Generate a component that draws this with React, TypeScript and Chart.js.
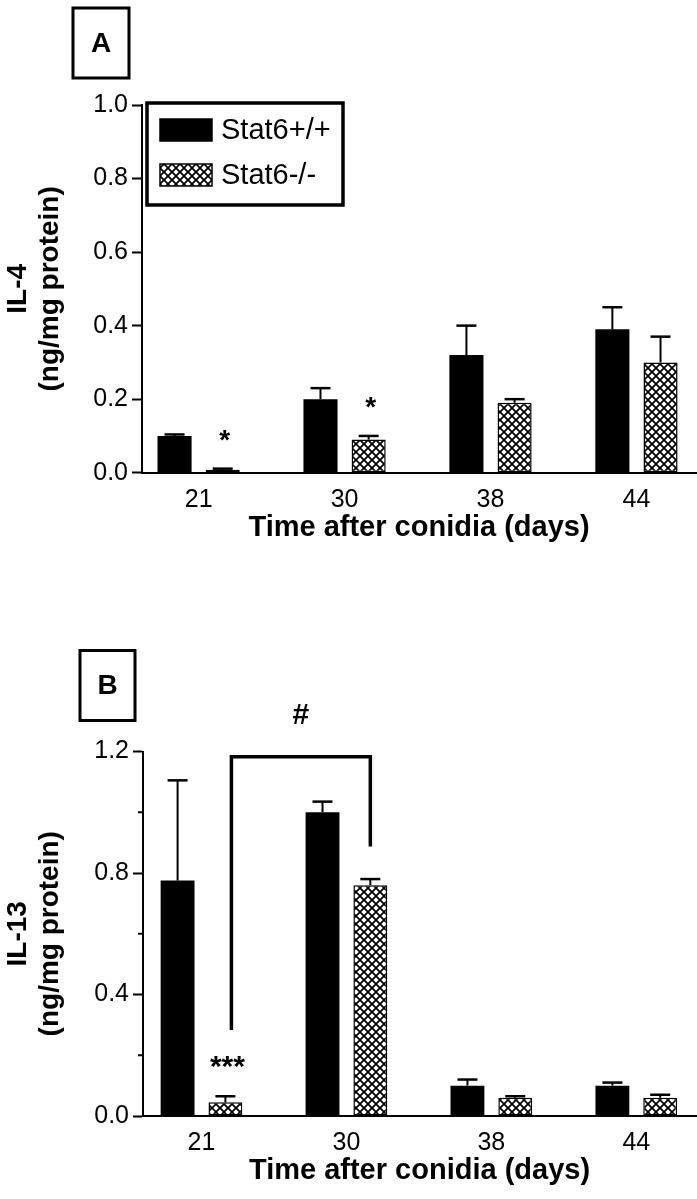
import React, { useEffect, useRef } from 'react';
import { Chart, registerables } from 'chart.js';

Chart.register(...registerables);

const FONT = "'Liberation Sans', Arial, Helvetica, sans-serif";

// ---- data ----
const categories = ['21', '30', '38', '44'];
const seriesNames = ['Stat6+/+', 'Stat6-/-'];

const il4Wt = [0.10, 0.20, 0.32, 0.39];
const il4WtErr = [0.004, 0.03, 0.08, 0.06];
const il4Ko = [0.008, 0.09, 0.19, 0.30];
const il4KoErr = [0.003, 0.01, 0.01, 0.07];
const il4KoSig = ['*', '*', '', ''];
const il4Ticks = [0, 0.2, 0.4, 0.6, 0.8, 1.0];

const il13Wt = [0.775, 1.0, 0.10, 0.10];
const il13WtErr = [0.33, 0.035, 0.02, 0.01];
const il13Ko = [0.045, 0.76, 0.06, 0.06];
const il13KoErr = [0.02, 0.02, 0.005, 0.01];
const il13KoSig = ['***', '', '', ''];
const il13Ticks = [0, 0.4, 0.8, 1.2];
const il13MinorTicks = [0.2, 0.6, 1.0];
// bracket between Stat6-/- day 21 and Stat6-/- day 30 (y values in ng/mg)
const il13BracketFrom = 0;
const il13BracketTo = 1;
const il13BracketTop = 1.183;
const il13BracketLeftEnd = 0.283;
const il13BracketRightEnd = 0.887;
const il13BracketLabel = '#';

function makeHatch(): CanvasPattern {
  const c = document.createElement('canvas');
  c.width = 8;
  c.height = 8;
  const g = c.getContext('2d')!;
  g.fillStyle = '#fff';
  g.fillRect(0, 0, 8, 8);
  g.strokeStyle = '#000';
  g.lineWidth = 1.7;
  for (const o of [-8, 0, 8]) {
    g.beginPath();
    g.moveTo(o, 0);
    g.lineTo(o + 8, 8);
    g.stroke();
    g.beginPath();
    g.moveTo(o + 8, 0);
    g.lineTo(o, 8);
    g.stroke();
  }
  return g.createPattern(c, 'repeat')!;
}

type PanelCfg = {
  letter: string;
  letterBox: { dx: number; dy: number; w: number; h: number };
  wt: number[];
  wtErr: number[];
  ko: number[];
  koErr: number[];
  sig: string[];
  sigSize: number;
  ticks: number[];
  minorTicks: number[];
  yMax: number;
  yTitle: string[];
  xMin: number;
  xMax: number;
  padTop: number;
  yAxisWidth: number;
  xAxisHeight: number;
  xTitlePadBottom: number;
  legend: boolean;
  bracket: boolean;
};

function buildChart(canvas: HTMLCanvasElement, cfg: PanelCfg) {
  const hatch = makeHatch();
  const annot = {
    id: 'annot',
    afterDatasetsDraw(chart: any) {
      const ctx: CanvasRenderingContext2D = chart.ctx;
      const y = chart.scales.y;
      const area = chart.chartArea;
      const vals = [cfg.wt, cfg.ko];
      const errs = [cfg.wtErr, cfg.koErr];
      ctx.save();
      ctx.strokeStyle = '#000';
      ctx.fillStyle = '#000';
      // error bars (upper only)
      for (let d = 0; d < 2; d++) {
        const meta = chart.getDatasetMeta(d);
        meta.data.forEach((bar: any, i: number) => {
          const top = y.getPixelForValue(vals[d][i]);
          const et = y.getPixelForValue(vals[d][i] + errs[d][i]);
          ctx.lineWidth = 2;
          ctx.beginPath();
          ctx.moveTo(bar.x, top);
          ctx.lineTo(bar.x, et);
          ctx.stroke();
          ctx.lineWidth = 2.5;
          ctx.beginPath();
          ctx.moveTo(bar.x - 10, et);
          ctx.lineTo(bar.x + 10, et);
          ctx.stroke();
        });
      }
      // significance marks
      const koMeta = chart.getDatasetMeta(1);
      ctx.textAlign = 'center';
      ctx.textBaseline = 'alphabetic';
      ctx.font = `bold ${cfg.sigSize}px ${FONT}`;
      cfg.sig.forEach((s, i) => {
        if (!s) return;
        const bar: any = koMeta.data[i];
        const et = y.getPixelForValue(cfg.ko[i] + cfg.koErr[i]);
        ctx.fillText(s, bar.x + 2, et - 20);
      });
      // minor ticks
      ctx.lineWidth = 2;
      cfg.minorTicks.forEach((v) => {
        const p = y.getPixelForValue(v);
        ctx.beginPath();
        ctx.moveTo(area.left - 5, p);
        ctx.lineTo(area.left, p);
        ctx.stroke();
      });
      // bracket
      if (cfg.bracket) {
        const b0: any = koMeta.data[il13BracketFrom];
        const b1: any = koMeta.data[il13BracketTo];
        const xl = b0.x + 6;
        const xr = b1.x;
        const yt = y.getPixelForValue(il13BracketTop);
        ctx.lineWidth = 3.5;
        ctx.lineJoin = 'miter';
        ctx.beginPath();
        ctx.moveTo(xl, y.getPixelForValue(il13BracketLeftEnd));
        ctx.lineTo(xl, yt);
        ctx.lineTo(xr, yt);
        ctx.lineTo(xr, y.getPixelForValue(il13BracketRightEnd));
        ctx.stroke();
        ctx.font = `bold 30px ${FONT}`;
        ctx.fillText(il13BracketLabel, (xl + xr) / 2, yt - 33);
      }
      ctx.restore();
    },
    afterDraw(chart: any) {
      const ctx: CanvasRenderingContext2D = chart.ctx;
      const area = chart.chartArea;
      ctx.save();
      ctx.strokeStyle = '#000';
      ctx.fillStyle = '#000';
      // panel letter box
      const lb = cfg.letterBox;
      const bx = area.left + lb.dx;
      const by = area.top + lb.dy;
      ctx.lineWidth = 3;
      ctx.strokeRect(bx, by, lb.w, lb.h);
      ctx.font = `bold 28px ${FONT}`;
      ctx.textAlign = 'center';
      ctx.textBaseline = 'middle';
      ctx.fillText(cfg.letter, bx + lb.w / 2, by + lb.h / 2 + 1);
      // legend
      if (cfg.legend) {
        const lx = area.left + 5;
        const ly = area.top - 2;
        ctx.lineWidth = 3.5;
        ctx.strokeRect(lx, ly, 196, 102);
        const sw = 52;
        const sh = 22;
        const rows = [ly + 16, ly + 61];
        const fills: (string | CanvasPattern)[] = ['#000', hatch];
        ctx.font = `29px ${FONT}`;
        ctx.textAlign = 'left';
        ctx.textBaseline = 'middle';
        rows.forEach((ry, k) => {
          ctx.fillStyle = fills[k];
          ctx.fillRect(lx + 13, ry, sw, sh);
          ctx.lineWidth = 1.5;
          ctx.strokeRect(lx + 13, ry, sw, sh);
          ctx.fillStyle = '#000';
          ctx.fillText(seriesNames[k], lx + 74, ry + sh / 2 + 1);
        });
      }
      ctx.restore();
    },
  };

  return new Chart(canvas, {
    type: 'bar',
    data: {
      datasets: [
        {
          label: seriesNames[0],
          data: cfg.wt.map((v, i) => ({ x: i, y: v })),
          backgroundColor: '#000',
          borderColor: '#000',
          borderWidth: 0,
          categoryPercentage: 0.66,
          barPercentage: 0.708,
        },
        {
          label: seriesNames[1],
          data: cfg.ko.map((v, i) => ({ x: i, y: v })),
          backgroundColor: hatch,
          borderColor: '#000',
          borderWidth: 1.5,
          borderSkipped: false,
          categoryPercentage: 0.66,
          barPercentage: 0.708,
        },
      ],
    } as any,
    options: {
      responsive: false,
      animation: false,
      devicePixelRatio: 1,
      layout: { padding: { top: cfg.padTop, right: 1, bottom: 0, left: 0 } },
      plugins: {
        legend: { display: false },
        tooltip: { enabled: false },
      },
      scales: {
        x: {
          type: 'linear',
          min: cfg.xMin,
          max: cfg.xMax,
          offset: false,
          afterBuildTicks: (s: any) => {
            s.ticks = categories.map((_, i) => ({ value: i }));
          },
          afterFit: (s: any) => {
            s.height = cfg.xAxisHeight;
          },
          grid: { display: false, drawTicks: false, offset: false },
          border: { display: true, color: '#000', width: 2 },
          ticks: {
            color: '#000',
            font: { family: FONT, size: 25 },
            padding: 12,
            autoSkip: false,
            maxRotation: 0,
            callback: (v: any) => categories[Math.round(Number(v))] ?? '',
          },
          title: {
            display: true,
            text: 'Time after conidia (days)',
            color: '#000',
            font: { family: FONT, size: 29, weight: 'bold', lineHeight: 1.2 },
            padding: { top: 0, bottom: cfg.xTitlePadBottom },
          },
        },
        y: {
          type: 'linear',
          min: 0,
          max: cfg.yMax,
          afterBuildTicks: (s: any) => {
            s.ticks = cfg.ticks.map((v) => ({ value: v }));
          },
          afterFit: (s: any) => {
            s.width = cfg.yAxisWidth;
          },
          grid: {
            drawOnChartArea: false,
            drawTicks: true,
            tickLength: 10,
            tickWidth: 2,
            tickColor: '#000',
          },
          border: { display: true, color: '#000', width: 2 },
          ticks: {
            color: '#000',
            font: { family: FONT, size: 25 },
            padding: 4,
            callback: (v: any) => Number(v).toFixed(1),
          },
          title: {
            display: true,
            text: cfg.yTitle,
            color: '#000',
            font: { family: FONT, size: 28, weight: 'bold', lineHeight: '32px' },
            padding: { top: 2, bottom: 0 },
          },
        },
      },
    } as any,
    plugins: [annot],
  });
}

export default function App() {
  const refA = useRef<HTMLCanvasElement>(null);
  const refB = useRef<HTMLCanvasElement>(null);

  useEffect(() => {
    const a = buildChart(refA.current!, {
      letter: 'A',
      letterBox: { dx: -69, dy: -97, w: 56, h: 70 },
      wt: il4Wt,
      wtErr: il4WtErr,
      ko: il4Ko,
      koErr: il4KoErr,
      sig: il4KoSig,
      sigSize: 28,
      ticks: il4Ticks,
      minorTicks: [],
      yMax: 1.0,
      yTitle: ['IL-4', '(ng/mg protein)'],
      xMin: -0.388,
      xMax: 3.408,
      padTop: 105,
      yAxisWidth: 142,
      xAxisHeight: 127.3,
      xTitlePadBottom: 54.6,
      legend: true,
      bracket: false,
    });
    const b = buildChart(refB.current!, {
      letter: 'B',
      letterBox: { dx: -63, dy: -101, w: 55, h: 70 },
      wt: il13Wt,
      wtErr: il13WtErr,
      ko: il13Ko,
      koErr: il13KoErr,
      sig: il13KoSig,
      sigSize: 30,
      ticks: il13Ticks,
      minorTicks: il13MinorTicks,
      yMax: 1.2,
      yTitle: ['IL-13', '(ng/mg protein)'],
      xMin: -0.4036,
      xMax: 3.412,
      padTop: 151.5,
      yAxisWidth: 143,
      xAxisHeight: 83,
      xTitlePadBottom: 10.6,
      legend: false,
      bracket: true,
    });
    return () => {
      a.destroy();
      b.destroy();
    };
  }, []);

  return (
    <div style={{ position: 'absolute', left: 0, top: 0, width: 697, height: 1199, background: '#fff', overflow: 'hidden' }}>
      <canvas ref={refA} width={697} height={600} style={{ position: 'absolute', left: 0, top: 0, width: 697, height: 600 }} />
      <canvas ref={refB} width={697} height={599} style={{ position: 'absolute', left: 0, top: 600, width: 697, height: 599 }} />
    </div>
  );
}
